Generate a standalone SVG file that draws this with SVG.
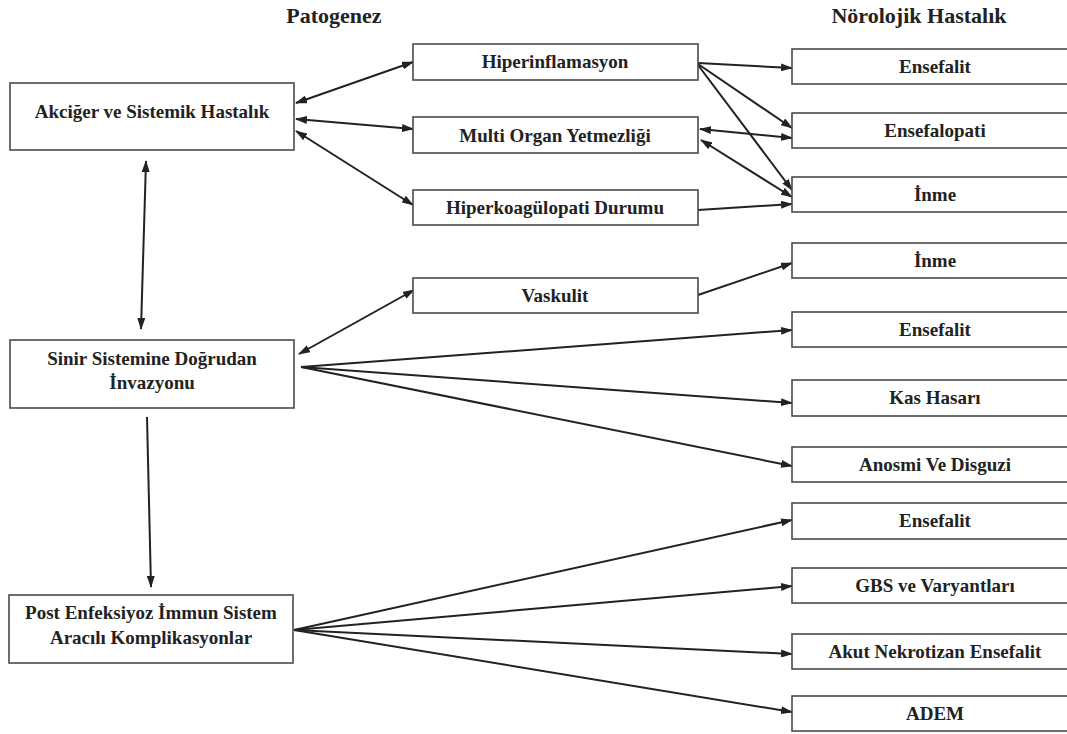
<svg xmlns="http://www.w3.org/2000/svg" width="1067" height="734" viewBox="0 0 1067 734">
<style>
.box{fill:#fff;stroke:#4a4a4a;stroke-width:1.6}
.t{font-family:'Liberation Serif','DejaVu Serif',serif;font-weight:bold;font-size:19px;fill:#222;text-anchor:middle}
.h{font-family:'Liberation Serif','DejaVu Serif',serif;font-weight:bold;font-size:22px;fill:#222;text-anchor:middle}
.c line{stroke:#222;stroke-width:2;fill:none}
.a{marker-end:url(#ah)}
.b{marker-start:url(#ah);marker-end:url(#ah)}
</style>
<defs>
<marker id="ah" markerUnits="userSpaceOnUse" markerWidth="12" markerHeight="8" refX="11" refY="4" orient="auto-start-reverse" viewBox="0 0 12 8">
<path d="M0,0 L12,4 L0,8 Z" fill="#222"/>
</marker>
</defs>
<rect width="1067" height="734" fill="#fff"/>
<text class="h" x="334" y="23">Patogenez</text>
<text class="h" x="919" y="23">Nörolojik Hastalık</text>

<g class="c" id="connectors">
<line class="b" x1="296" y1="103" x2="413" y2="62"/>
<line class="b" x1="296" y1="119" x2="413" y2="129"/>
<line class="b" x1="296" y1="131" x2="413" y2="205"/>
<line class="b" x1="146" y1="161" x2="141" y2="329"/>
<line class="a" x1="147" y1="417" x2="151" y2="587"/>
<line class="b" x1="299" y1="354" x2="414" y2="290"/>
<line class="a" x1="301" y1="367" x2="792" y2="330"/>
<line class="a" x1="301" y1="367" x2="792" y2="403"/>
<line class="a" x1="301" y1="367" x2="792" y2="466"/>
<line class="a" x1="698" y1="295" x2="792" y2="263"/>
<line class="a" x1="698" y1="63" x2="792" y2="68"/>
<line class="a" x1="698" y1="64" x2="792" y2="128"/>
<line class="a" x1="698" y1="65" x2="792" y2="190"/>
<line class="b" x1="700" y1="129" x2="792" y2="138"/>
<line class="b" x1="701" y1="140" x2="792" y2="197"/>
<line class="a" x1="698" y1="210" x2="792" y2="204"/>
<line class="a" x1="294" y1="630" x2="792" y2="520"/>
<line class="a" x1="294" y1="630" x2="792" y2="586"/>
<line class="a" x1="294" y1="630" x2="792" y2="654"/>
<line class="a" x1="294" y1="630" x2="792" y2="712"/>
</g>

<g id="akciger"><rect class="box" x="10" y="83" width="284" height="67"/><text class="t" x="152" y="118">Akciğer ve Sistemik Hastalık</text></g>
<g id="sinir"><rect class="box" x="10" y="340" width="284" height="68"/><text class="t" x="152" y="365">Sinir Sistemine Doğrudan</text><text class="t" x="152" y="389">İnvazyonu</text></g>
<g id="post"><rect class="box" x="9" y="595" width="284" height="68"/><text class="t" x="151" y="619">Post Enfeksiyoz İmmun Sistem</text><text class="t" x="151" y="644">Aracılı Komplikasyonlar</text></g>

<g id="hiperinf"><rect class="box" x="413" y="44" width="285" height="36"/><text class="t" x="555" y="68">Hiperinflamasyon</text></g>
<g id="multi"><rect class="box" x="413" y="117" width="285" height="36"/><text class="t" x="555" y="142">Multi Organ Yetmezliği</text></g>
<g id="hiperkoag"><rect class="box" x="413" y="190" width="285" height="35"/><text class="t" x="555" y="214">Hiperkoagülopati Durumu</text></g>
<g id="vaskulit"><rect class="box" x="413" y="278" width="285" height="35"/><text class="t" x="555" y="302">Vaskulit</text></g>

<g id="r1"><rect class="box" x="792" y="49" width="280" height="35"/><text class="t" x="935" y="73">Ensefalit</text></g>
<g id="r2"><rect class="box" x="792" y="113" width="280" height="35"/><text class="t" x="935" y="137">Ensefalopati</text></g>
<g id="r3"><rect class="box" x="792" y="177" width="280" height="35"/><text class="t" x="935" y="201">İnme</text></g>
<g id="r4"><rect class="box" x="792" y="243" width="280" height="35"/><text class="t" x="935" y="267">İnme</text></g>
<g id="r5"><rect class="box" x="792" y="312" width="280" height="35"/><text class="t" x="935" y="336">Ensefalit</text></g>
<g id="r6"><rect class="box" x="792" y="380" width="280" height="36"/><text class="t" x="935" y="404">Kas Hasarı</text></g>
<g id="r7"><rect class="box" x="792" y="447" width="280" height="35"/><text class="t" x="935" y="471">Anosmi Ve Disguzi</text></g>
<g id="r8"><rect class="box" x="792" y="503" width="280" height="36"/><text class="t" x="935" y="527">Ensefalit</text></g>
<g id="r9"><rect class="box" x="792" y="568" width="280" height="35"/><text class="t" x="935" y="592">GBS ve Varyantları</text></g>
<g id="r10"><rect class="box" x="792" y="634" width="280" height="35"/><text class="t" x="935" y="658">Akut Nekrotizan Ensefalit</text></g>
<g id="r11"><rect class="box" x="792" y="696" width="280" height="35"/><text class="t" x="935" y="720">ADEM</text></g>
</svg>
